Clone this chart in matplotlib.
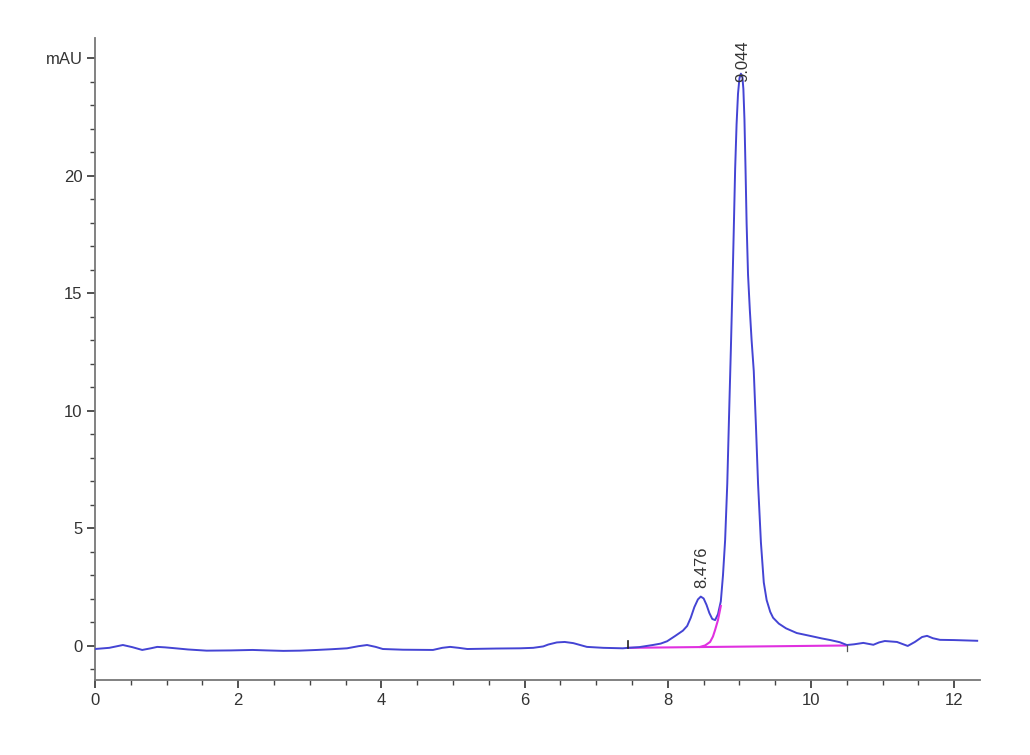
import matplotlib
matplotlib.use('Agg')
from matplotlib import pyplot as plt
from matplotlib.ticker import MultipleLocator, FixedLocator

# chromatogram trace (time in min, signal in mAU)
time_min = [0.00, 0.20, 0.39, 0.52, 0.66, 0.78, 0.87, 0.98, 1.09, 1.30,
            1.56, 1.90, 2.20, 2.40, 2.63, 2.86, 3.10, 3.30, 3.52, 3.68,
            3.80, 3.92, 4.02, 4.30, 4.72, 4.85, 4.96, 5.08, 5.20, 5.60,
            5.94, 6.12, 6.26, 6.33, 6.45, 6.56, 6.68, 6.87, 7.10, 7.37,
            7.45, 7.60, 7.79, 7.90, 7.99, 8.10, 8.21, 8.27, 8.32, 8.37,
            8.42, 8.46, 8.50, 8.54, 8.58, 8.62, 8.66, 8.70, 8.74, 8.77,
            8.80, 8.83, 8.855, 8.88, 8.90, 8.92, 8.94, 8.96, 8.98, 9.00,
            9.02, 9.04, 9.055, 9.07, 9.085, 9.10, 9.12, 9.145, 9.17, 9.20,
            9.23, 9.26, 9.30, 9.34, 9.38, 9.43, 9.47, 9.55, 9.65, 9.80,
            10.00, 10.15, 10.27, 10.40, 10.50, 10.60, 10.73, 10.87, 10.95, 11.03,
            11.20, 11.35, 11.45, 11.55, 11.62, 11.70, 11.80, 12.00, 12.32]
signal_mau = [-0.13, -0.08, 0.04, -0.05, -0.17, -0.10, -0.04, -0.06, -0.09, -0.15,
              -0.20, -0.19, -0.17, -0.19, -0.21, -0.20, -0.17, -0.14, -0.10, -0.01,
              0.04, -0.04, -0.13, -0.16, -0.17, -0.08, -0.04, -0.08, -0.13, -0.11,
              -0.10, -0.08, -0.02, 0.06, 0.15, 0.17, 0.12, -0.04, -0.08, -0.10,
              -0.08, -0.05, 0.04, 0.10, 0.20, 0.42, 0.65, 0.85, 1.20, 1.65,
              1.98, 2.10, 2.02, 1.75, 1.40, 1.15, 1.10, 1.35, 1.90, 3.00,
              4.50, 6.90, 9.80, 12.60, 15.00, 17.60, 20.30, 22.20, 23.50, 24.15,
              24.35, 24.25, 23.70, 22.40, 20.30, 18.00, 15.80, 14.30, 13.00, 11.70,
              9.40, 6.90, 4.40, 2.70, 1.95, 1.45, 1.20, 0.95, 0.75, 0.55,
              0.42, 0.32, 0.25, 0.16, 0.04, 0.07, 0.13, 0.05, 0.15, 0.21,
              0.17, 0.00, 0.17, 0.38, 0.43, 0.33, 0.26, 0.25, 0.22]

# integration baseline and skim of the main peak front
base_t = [7.45, 10.50]
base_y = [-0.08, 0.02]
skim_t = [8.45, 8.52, 8.59, 8.63, 8.66, 8.70, 8.74]
skim_y = [-0.04, 0.02, 0.17, 0.40, 0.68, 1.10, 1.70]

peak_rt = [8.476, 9.044]
peak_lbl = ['8.476', '9.044']
peak_lbl_y = [2.45, 24.0]

plt.rcParams['font.family'] = ['Liberation Sans', 'DejaVu Sans']

fig = plt.figure(figsize=(10.30, 7.55), dpi=100)
ax = fig.add_axes([0.0922, 0.0993, 0.8593, 0.8504])

ax.plot(time_min, signal_mau, color='#4444d4', lw=1.4, zorder=3)
ax.plot(base_t, base_y, color='#e030e0', lw=1.5, zorder=2)
ax.plot(skim_t, skim_y, color='#e030e0', lw=1.5, zorder=4)
# start / end marks of the integration
ax.plot([7.45, 7.45], [-0.08, 0.2], color='#222222', lw=1.2, zorder=5)
ax.plot([10.50, 10.50], [0.02, -0.22], color='#555555', lw=0.9, zorder=5)

for x, s, y in zip(peak_rt, peak_lbl, peak_lbl_y):
    ax.text(x, y, s, rotation=90, ha='center', va='bottom',
            fontsize=12, color='#333333', zorder=6)

ax.set_xlim(0, 12.36)
ax.set_ylim(-1.45, 25.87)

ax.xaxis.set_major_locator(MultipleLocator(2))
ax.xaxis.set_minor_locator(MultipleLocator(0.5))
ax.yaxis.set_major_locator(FixedLocator([0, 5, 10, 15, 20, 25]))
ax.yaxis.set_minor_locator(MultipleLocator(1))
ax.set_yticklabels(['0', '5', '10', '15', '20', 'mAU'])

for side in ['top', 'right']:
    ax.spines[side].set_visible(False)
for side in ['left', 'bottom']:
    ax.spines[side].set_color('#777777')
    ax.spines[side].set_linewidth(1.3)

ax.tick_params(which='major', length=6, width=1.2, color='#333333',
               labelsize=12, labelcolor='#333333', pad=3)
ax.tick_params(which='minor', length=3.5, width=1.0, color='#444444')

fig.savefig('out.png', dpi=100)
